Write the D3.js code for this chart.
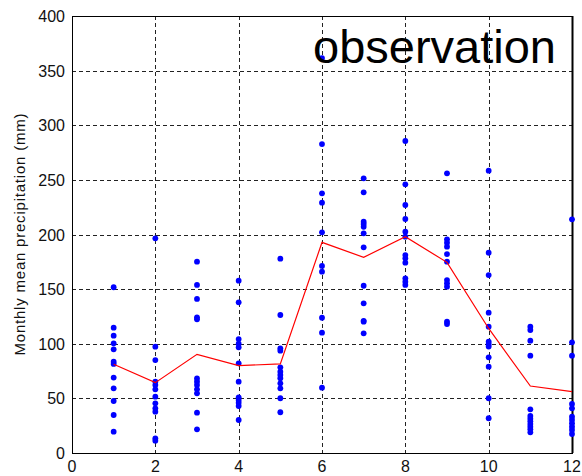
<!DOCTYPE html>
<html>
<head>
<meta charset="utf-8">
<script src="https://cdn.jsdelivr.net/npm/d3@7"></script>
<style>
  html, body { margin: 0; padding: 0; background: #fff; }
  svg { display: block; }
  text { font-family: Arial, "Liberation Sans", Helvetica, sans-serif; }
</style>
</head>
<body>
<svg id="chart" width="582" height="476"></svg>
<script>
// ---- data ----
const months = [1, 2, 3, 4, 5, 6, 7, 8, 9, 10, 11, 12];
const obsJan = [151.7, 114.7, 107.4, 100.4, 94.9, 83.6, 81.5, 69, 59.2, 47.6, 34.8, 19.5];
const obsFeb = [196.5, 97.3, 85.1, 65.3, 62.2, 58.3, 51.6, 45.5, 40.9, 37.8, 13.4, 11.3];
const obsMar = [175.1, 153.8, 141, 124.2, 122.4, 68.3, 65.3, 62.2, 58.3, 54.6, 36.9, 21.7];
const obsApr = [157.7, 137.9, 104.3, 100, 96.7, 82.1, 65.3, 51, 48.5, 46, 43, 30.2];
const obsMay = [177.9, 126.3, 95.8, 93.7, 78.4, 74.4, 71.4, 68.4, 63.8, 59.2, 50.1, 37.3];
const obsJun = [361.5, 282.8, 237.7, 229.1, 202, 171.2, 166, 123.8, 110.1, 59.8];
const obsJul = [251.4, 238.6, 211.7, 209.6, 207.1, 201.1, 188.3, 153.1, 137, 121, 120.2, 109.5];
const obsAug = [285.6, 245.9, 227, 214.2, 202.6, 198, 181.2, 178.2, 174.2, 159.9, 156.8, 153.8];
const obsSep = [256, 195.6, 192.5, 188.9, 182.1, 175.1, 158.3, 155.3, 152.2, 120.2, 118.1];
const obsOct = [258.4, 183.3, 162.9, 128.4, 115.6, 102, 99.8, 97.5, 87.6, 79, 50.1, 31.8];
const obsNov = [115.6, 112.6, 102.8, 89.1, 40, 33.9, 31.4, 29, 26.5, 24.1, 21.7, 18.9];
const obsDec = [213.9, 101.3, 89.1, 44.9, 40.9, 33.2, 30.2, 27.2, 24.1, 21.1, 17.4];
const observations = [obsJan, obsFeb, obsMar, obsApr, obsMay, obsJun, obsJul, obsAug, obsSep, obsOct, obsNov, obsDec];
const monthlyMean = [81.2, 64.4, 90.3, 80, 81.5, 192.8, 179.1, 198, 174.5, 114, 61.3, 56.1];
const xTicks = [0, 2, 4, 6, 8, 10, 12];
const yTicks = [0, 50, 100, 150, 200, 250, 300, 350, 400];
const yLabel = "Monthly mean precipitation (mm)";
const title = "observation";

// ---- layout ----
const svg = d3.select("#chart");
const L = 72, R = 572, T = 16, B = 453;
const x = d3.scaleLinear().domain([0, 12]).range([L, R]);
const y = d3.scaleLinear().domain([0, 400]).range([B, T]);

// grid
const grid = svg.append("g").attr("stroke", "#222").attr("stroke-width", 1)
  .attr("stroke-dasharray", "4,3").attr("shape-rendering", "crispEdges");
grid.selectAll("line.v").data(xTicks.filter(d => d > 0 && d < 12)).enter().append("line")
  .attr("x1", d => Math.round(x(d)) + 0.5).attr("x2", d => Math.round(x(d)) + 0.5)
  .attr("y1", T).attr("y2", B);
grid.selectAll("line.h").data(yTicks.filter(d => d > 0 && d < 400)).enter().append("line")
  .attr("y1", d => Math.round(y(d)) + 0.5).attr("y2", d => Math.round(y(d)) + 0.5)
  .attr("x1", L).attr("x2", R);

// frame
svg.append("rect").attr("x", L + 0.5).attr("y", T + 0.5)
  .attr("width", R - L).attr("height", B - T)
  .attr("fill", "none").attr("stroke", "#000").attr("stroke-width", 1)
  .attr("shape-rendering", "crispEdges");
svg.append("line").attr("x1", R + 0.5).attr("x2", R + 0.5).attr("y1", T).attr("y2", B)
  .attr("stroke", "#000").attr("stroke-width", 2);

// tick labels
svg.append("g").selectAll("text").data(yTicks).enter().append("text")
  .attr("x", 65).attr("y", d => y(d) + 6)
  .attr("text-anchor", "end").attr("font-size", 16).attr("fill", "#111")
  .text(d => d);
svg.append("g").selectAll("text").data(xTicks).enter().append("text")
  .attr("x", d => x(d)).attr("y", 472)
  .attr("text-anchor", "middle").attr("font-size", 16).attr("fill", "#111")
  .text(d => d);

// y label
svg.append("text")
  .attr("transform", `translate(25,${(T + B) / 2}) rotate(-90)`)
  .attr("text-anchor", "middle").attr("font-size", 15).attr("fill", "#111")
  .attr("textLength", 242).attr("lengthAdjust", "spacing")
  .text(yLabel);

// points
const pts = [];
observations.forEach((arr, i) => arr.forEach(v => pts.push({ m: months[i], v })));
svg.append("g").selectAll("circle").data(pts).enter().append("circle")
  .attr("cx", d => x(d.m)).attr("cy", d => y(d.v)).attr("r", 2.9)
  .attr("fill", "#0000ff");

// mean line
const line = d3.line().x((d, i) => x(months[i])).y(d => y(d));
svg.append("path").datum(monthlyMean).attr("d", line)
  .attr("fill", "none").attr("stroke", "#ff0000").attr("stroke-width", 1.2);

// title text
svg.append("text").attr("x", 556).attr("y", 63)
  .attr("text-anchor", "end").attr("font-size", 47).attr("fill", "#000")
  .text(title);
</script>
</body>
</html>
